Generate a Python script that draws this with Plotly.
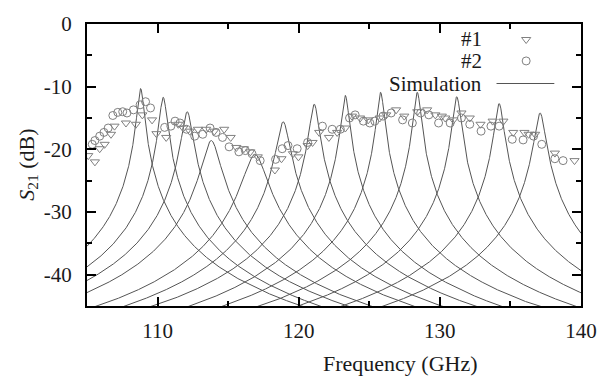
import numpy as np
import plotly.graph_objects as go

# ---- measured data (#1 : triangles, #2 : circles) ----
f1 = [105.09, 105.56, 105.9, 106.25, 106.7, 106.95, 107.76, 108.46, 108.92, 109.61, 109.92, 110.61,
      111.47, 111.82, 112.28, 112.86, 113.44, 114.02, 114.72, 115.18, 115.58, 116.11, 116.57, 117.1,
      118.31, 118.78, 119.59, 119.98, 120.63, 120.98, 121.45, 122.14, 122.72, 123.3,
      123.77, 124.35, 124.92, 125.74, 126.2, 126.9, 127.48, 128.4, 129.1, 129.68, 130.14,
      130.38, 130.96, 131.53, 132.12, 132.88, 133.74, 134.5, 135.2, 135.99, 136.29,
      136.75, 138.15, 139.54]
s1 = [-21.0, -22.0, -19.9, -19.2, -17.6, -16.3, -15.8, -16.0, -14.5, -15.3, -17.5, -18.1,
      -16.0, -16.6, -17.1, -16.8, -16.8, -17.1, -16.8, -18.1, -19.7, -19.9, -20.4, -21.2,
      -23.3, -21.5, -20.7, -21.2, -19.4, -18.9, -17.3, -18.1, -17.3, -16.6,
      -14.7, -15.0, -15.3, -15.0, -14.5, -13.7, -14.7, -14.0, -13.7, -14.5, -14.7,
      -15.0, -15.3, -14.2, -15.0, -16.0, -15.5, -15.5, -17.3, -17.3, -17.6,
      -17.6, -20.6, -21.8]

f2 = [105.37, 105.56, 105.9, 106.2, 106.5, 106.83, 107.18, 107.53, 107.83, 108.29, 108.76, 109.15, 109.5,
      110.5, 110.94, 111.24, 111.59, 112.05, 112.63, 113.2, 113.72, 114.14, 114.6, 115.07, 115.76,
      116.22, 116.69, 117.27, 118.36, 118.83, 119.24, 119.89, 120.63, 121.68, 122.37, 122.95, 123.6,
      124.0, 124.58, 125.04, 125.39, 125.97, 126.55, 127.36, 128.05, 128.64, 129.22, 129.91,
      130.73, 131.53, 132.12, 132.92, 133.62, 134.2, 135.13, 135.9, 136.64, 137.22, 138.15, 138.73]
s2 = [-19.2, -18.6, -17.9, -17.3, -16.6, -14.6, -14.1, -14.0, -14.2, -13.7, -12.9, -12.4, -13.4,
      -16.5, -16.3, -15.5, -15.8, -16.8, -17.9, -17.6, -16.6, -17.3, -18.1, -19.6, -20.4,
      -20.2, -20.7, -21.8, -21.6, -19.9, -19.4, -19.9, -18.9, -16.3, -16.8, -16.8, -15.0,
      -14.5, -15.5, -15.8, -15.5, -14.7, -14.2, -15.3, -15.8, -14.2, -14.5, -15.8,
      -15.8, -15.0, -16.0, -17.1, -16.3, -16.3, -18.4, -18.5, -17.9, -19.2, -21.5, -21.8]

# ---- simulated resonances: centre (GHz), peak level (dB), half width (GHz) ----
res_f = [108.8, 110.4, 112.1, 113.8, 116.9, 118.9, 121.1, 123.3, 125.8, 128.4, 131.2, 134.2, 137.1]
res_peak = [-10.3, -11.7, -14.0, -18.6, -20.8, -15.6, -12.8, -11.4, -10.9, -10.9, -11.6, -12.7, -14.2]
res_hw = [0.21, 0.24, 0.32, 0.54, 0.69, 0.38, 0.28, 0.23, 0.22, 0.22, 0.24, 0.27, 0.32]

x_ticks = [110, 120, 130, 140]
y_ticks = [0, -10, -20, -30, -40]
y_labels = ["0", "-10", "-20", "-30", "-40"]

FONT = "Liberation Serif, Times New Roman, serif"
TXT_C = "#1a1a1a"
LINE_C = "#555555"
MARK_C = "#808080"

fig = go.Figure()
fgrid = np.linspace(105, 140, 2801)
for fc, pk, hw in zip(res_f, res_peak, res_hw):
    fig.add_trace(go.Scatter(x=fgrid, y=pk - 10 * np.log10(1 + ((fgrid - fc) / hw) ** 2),
                             mode="lines", line=dict(color=LINE_C, width=1),
                             showlegend=False, hoverinfo="skip"))

mk1 = dict(symbol="triangle-down-open", size=8, color=MARK_C, line=dict(width=1, color=MARK_C))
mk2 = dict(symbol="circle-open", size=8, color=MARK_C, line=dict(width=1, color=MARK_C))
fig.add_trace(go.Scatter(x=f1, y=s1, mode="markers", showlegend=False, marker=mk1))
fig.add_trace(go.Scatter(x=f2, y=s2, mode="markers", showlegend=False, marker=mk2))

# legend symbols on a hidden overlay axis (0..1 over the plot area)
fig.add_trace(go.Scatter(x=[0.889], y=[0.945], xaxis="x2", yaxis="y2", mode="markers",
                         showlegend=False, hoverinfo="skip", marker=mk1))
fig.add_trace(go.Scatter(x=[0.889], y=[0.869], xaxis="x2", yaxis="y2", mode="markers",
                         showlegend=False, hoverinfo="skip", marker=mk2))

axis_common = dict(showline=True, linecolor="black", linewidth=2, mirror="allticks",
                   ticks="inside", ticklen=9, tickwidth=1.5, tickcolor="black",
                   showgrid=False, zeroline=False,
                   tickfont=dict(family=FONT, size=21, color=TXT_C))

LEG_FONT = dict(family=FONT, size=21, color=TXT_C)

fig.update_layout(
    width=609, height=376,
    margin=dict(l=87, r=19, t=17, b=70),
    plot_bgcolor="white", paper_bgcolor="white",
    font=dict(family=FONT, color=TXT_C),
    xaxis=dict(range=[105, 140], tickmode="array", tickvals=x_ticks,
               minor=dict(dtick=5, tick0=105, ticks="inside", ticklen=5, tickcolor="black", tickwidth=1.5),
               ticklabelstandoff=5, **axis_common),
    yaxis=dict(range=[-45, 0], tickmode="array", tickvals=y_ticks, ticktext=y_labels,
               minor=dict(dtick=5, tick0=0, ticks="inside", ticklen=5, tickcolor="black", tickwidth=1.5),
               ticklabelstandoff=9, **axis_common),
    xaxis2=dict(overlaying="x", range=[0, 1], visible=False, anchor="y2"),
    yaxis2=dict(overlaying="y", range=[0, 1], visible=False, anchor="x2"),
    shapes=[dict(type="line", xref="paper", yref="paper", x0=0.829, x1=0.946, y0=0.789, y1=0.789,
                 line=dict(color=LINE_C, width=1))],
    annotations=[
        dict(text="#1", xref="paper", yref="paper", x=0.803, y=0.947, xanchor="right", yanchor="middle",
             showarrow=False, font=LEG_FONT, height=21, valign="middle"),
        dict(text="#2", xref="paper", yref="paper", x=0.803, y=0.869, xanchor="right", yanchor="middle",
             showarrow=False, font=LEG_FONT, height=21, valign="middle"),
        dict(text="Simulation", xref="paper", yref="paper", x=0.803, y=0.789, xanchor="right", yanchor="middle",
             showarrow=False, font=LEG_FONT, height=21, valign="middle"),
        dict(text="Frequency (GHz)", xref="paper", yref="paper", x=0.634, y=-0.204, xanchor="center",
             yanchor="middle", showarrow=False, font=dict(family=FONT, size=22, color=TXT_C)),
        dict(text="<i>S</i><sub>21</sub> (dB)", xref="paper", yref="paper", x=-0.12, y=0.5,
             xanchor="center", yanchor="middle", textangle=-90, showarrow=False,
             font=dict(family=FONT, size=22, color=TXT_C)),
    ],
)

fig.write_html("out.html")
